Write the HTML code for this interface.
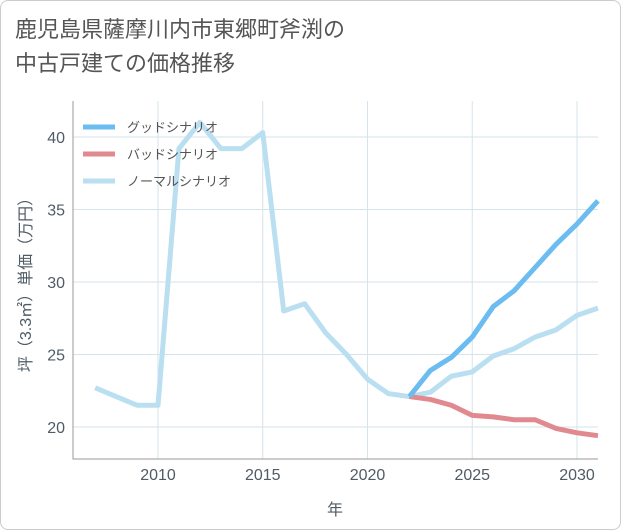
<!DOCTYPE html>
<html><head><meta charset="utf-8">
<style>
body{margin:0;background:#fff;}
.card{position:absolute;left:0;top:0;width:619px;height:528px;border:1px solid #ccc;border-radius:8px;background:#fff;overflow:hidden;}
.title{position:absolute;left:14px;top:12px;font:22px "Liberation Sans","Noto Sans CJK JP",sans-serif;color:#555;line-height:34px;}
svg text{font-family:"Liberation Sans","Noto Sans CJK JP",sans-serif;}
</style></head><body>
<div class="card">
<div class="title">鹿児島県薩摩川内市東郷町斧渕の<br>中古戸建ての価格推移</div>
<svg id="chart" width="621" height="530" style="position:absolute;left:0;top:0"></svg>
</div>
<script>
const normalYears=[2007,2008,2009,2010,2011,2012,2013,2014,2015,2016,2017,2018,2019,2020,2021,2022,2023,2024,2025,2026,2027,2028,2029,2030,2031];
const normalValues=[22.7,22.1,21.5,21.5,39.2,41,39.2,39.2,40.3,28,28.5,26.5,25,23.3,22.3,22.1,22.4,23.5,23.8,24.9,25.4,26.2,26.7,27.7,28.2];
const futureYears=[2022,2023,2024,2025,2026,2027,2028,2029,2030,2031];
const goodValues=[22.1,23.9,24.8,26.2,28.3,29.4,31,32.6,34,35.6];
const badValues=[22.1,21.9,21.5,20.8,20.7,20.5,20.5,19.9,19.6,19.4];
const xTicks=[2010,2015,2020,2025,2030];
const yTicks=[20,25,30,35,40];
const legendLabels=['グッドシナリオ','バッドシナリオ','ノーマルシナリオ'];
const colors=['#6bbcf0','#e08a90','#b9dff0'];
const L=72,R=597,T=100,B=458;
const x=v=>157+(v-2010)*20.95;
const y=v=>426-(v-20)*14.5;
const svg=document.getElementById('chart');
const NS='http://www.w3.org/2000/svg';
function mk(t,a){const e=document.createElementNS(NS,t);for(const k in a)e.setAttribute(k,a[k]);svg.appendChild(e);return e;}
xTicks.forEach(t=>{const l=mk('line',{x1:x(t),x2:x(t),y1:T,y2:B,stroke:'#d5e3ea'});
const tx=mk('text',{x:x(t),y:479,'text-anchor':'middle','font-size':16,fill:'#4f5b66'});tx.textContent=t;});
yTicks.forEach(t=>{const l=mk('line',{x1:L,x2:R,y1:y(t),y2:y(t),stroke:'#d5e3ea'});
const tx=mk('text',{x:64,y:y(t)+6,'text-anchor':'end','font-size':16,fill:'#4f5b66'});tx.textContent=t;});
const ax=mk('path',{d:`M${L} ${T}V${B}H${R}`,stroke:'#999',fill:'none'});
function line(xs,vs,c,name){const p=mk('polyline',{points:xs.map((t,i)=>x(t)+','+y(vs[i])).join(' '),fill:'none',stroke:c,'stroke-width':5,'stroke-linejoin':'round'});}
line(normalYears,normalValues,colors[2],'normal-series-line');
line(futureYears,badValues,colors[1],'bad-series-line');
line(futureYears,goodValues,colors[0],'good-series-line');
legendLabels.forEach((s,i)=>{const yy=126+i*27;const l=mk('line',{x1:82,x2:114,y1:yy,y2:yy,stroke:colors[i],'stroke-width':5});
const tx=mk('text',{x:126,y:yy+5,'font-size':13,fill:'#555'});tx.textContent=s;});
const xt=mk('text',{x:334,y:514,'text-anchor':'middle','font-size':16,fill:'#4f5b66'});xt.textContent='年';
const yt=mk('text',{x:0,y:0,'text-anchor':'middle','font-size':16,fill:'#4f5b66',transform:'translate(30,280) rotate(-90)'});yt.textContent='坪（3.3㎡）単価（万円）';
</script>
</body></html>
